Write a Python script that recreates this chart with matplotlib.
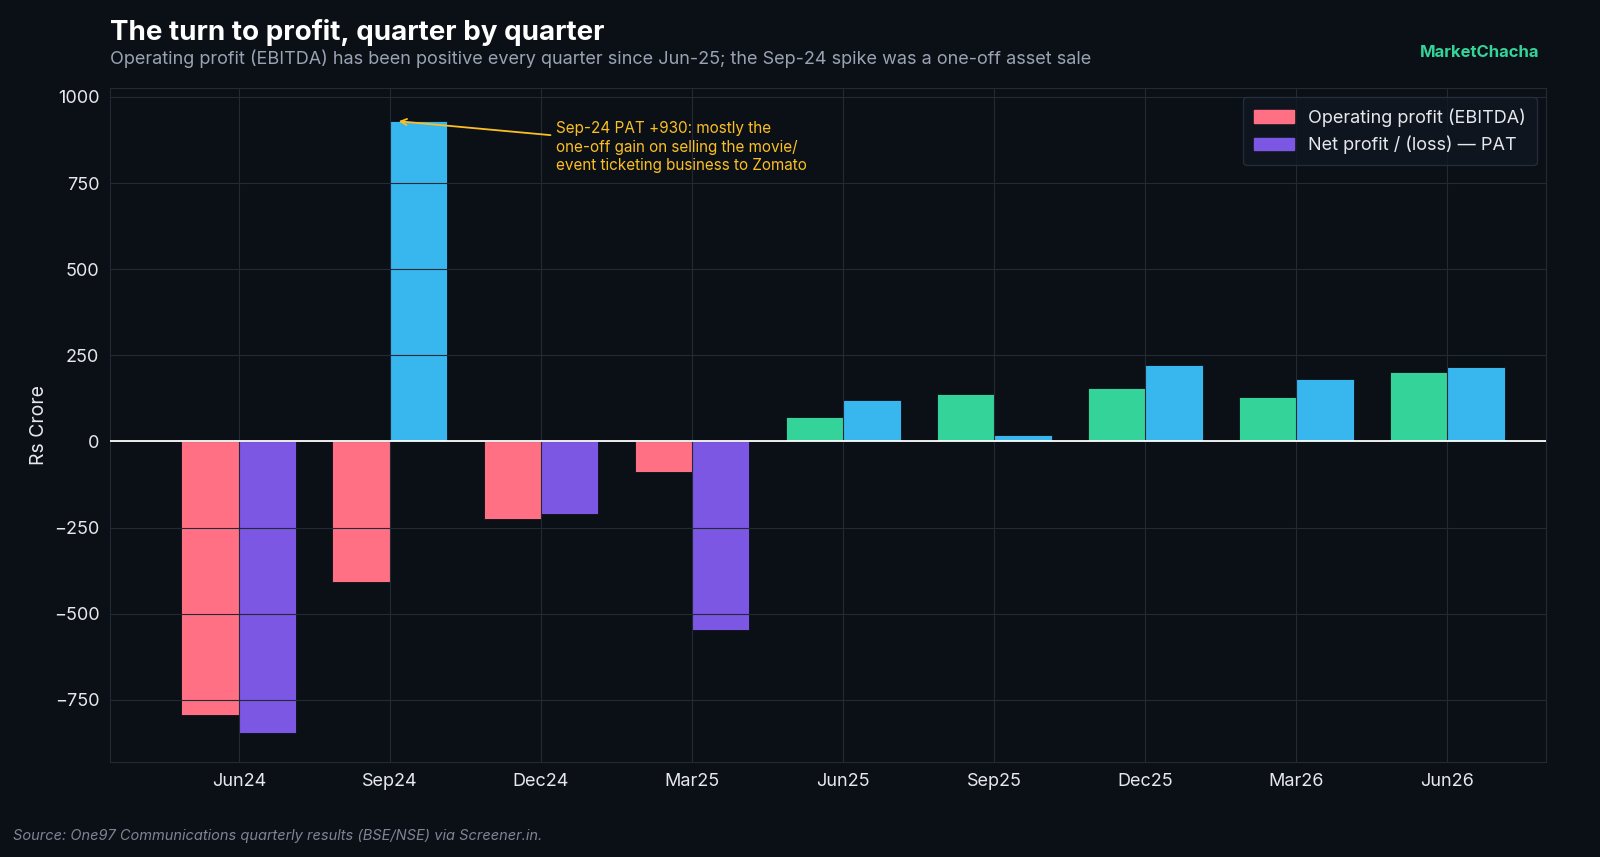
import matplotlib
matplotlib.use("Agg")
import matplotlib.pyplot as plt
import numpy as np
from matplotlib.patches import Patch

plt.rcParams['font.family'] = ['Inter', 'DejaVu Sans']

quarters = ["Jun24", "Sep24", "Dec24", "Mar25", "Jun25", "Sep25", "Dec25", "Mar26", "Jun26"]
ebitda = [-795, -408, -226, -90, 70, 137, 155, 128, 201]
pat = [-845, 930, -210, -548, 120, 18, 222, 181, 216]

BG = "#0b0f16"
fig = plt.figure(figsize=(16, 8.57), dpi=100, facecolor=BG)
ax = fig.add_axes([0.069, 0.111, 0.897, 0.786], facecolor=BG)

x = np.arange(len(quarters))
w = 0.38
ec = ["#ff7085" if v < 0 else "#34d399" for v in ebitda]
pc = ["#7b57e4" if v < 0 else "#38b6ee" for v in pat]
ax.bar(x - w/2, ebitda, w, color=ec, edgecolor=BG, linewidth=0.6, zorder=2)
ax.bar(x + w/2, pat, w, color=pc, edgecolor=BG, linewidth=0.6, zorder=2)

ax.set_xlim(-0.85, 8.65)
ax.set_ylim(-930, 1025)
ax.set_yticks([-750, -500, -250, 0, 250, 500, 750, 1000])
ax.set_xticks(x)
ax.set_xticklabels(quarters)
ax.grid(True, color="#222a36", linewidth=0.8, zorder=3)
ax.set_axisbelow(False)
ax.axhline(0, color="white", linewidth=1.3, zorder=4)
for s in ax.spines.values():
    s.set_color("#222a36")
ax.tick_params(colors="#e6e8ec", labelsize=13, length=0, pad=8)
ax.set_ylabel("Rs Crore", color="#e6e8ec", fontsize=14)

ax.annotate("Sep-24 PAT +930: mostly the\none-off gain on selling the movie/\nevent ticketing business to Zomato",
            xy=(1 + w/2 - 0.15, 930), xytext=(2.1, 930), color="#fbbf24", fontsize=11,
            va="top", ha="left", linespacing=1.3,
            arrowprops=dict(arrowstyle="->", color="#fbbf24", lw=1.3))

leg = ax.legend(handles=[Patch(color="#ff7085", label="Operating profit (EBITDA)"),
                         Patch(color="#7b57e4", label="Net profit / (loss) — PAT")],
                loc="upper right", fontsize=13, facecolor="#111722", edgecolor="#2a3240",
                labelcolor="#e6e8ec", handlelength=2.2, borderpad=0.6)

fig.text(0.069, 0.962, "The turn to profit, quarter by quarter", color="white",
         fontsize=20, fontweight="bold", va="center")
fig.text(0.069, 0.932, "Operating profit (EBITDA) has been positive every quarter since Jun-25; the Sep-24 spike was a one-off asset sale",
         color="#9aa3b2", fontsize=13, va="center")
fig.text(0.962, 0.939, "MarketChacha", color="#34d399", fontsize=12, fontweight="bold", ha="right", va="center")
fig.text(0.008, 0.02, "Source: One97 Communications quarterly results (BSE/NSE) via Screener.in.",
         color="#7d8594", fontsize=10.5, style="italic")

fig.savefig("out.png", dpi=100, facecolor=BG)
